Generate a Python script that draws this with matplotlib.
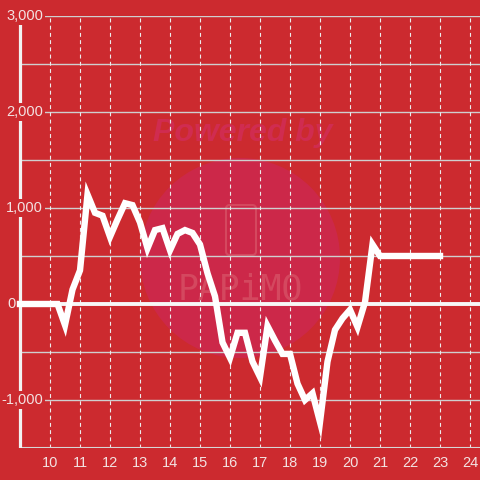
import matplotlib
matplotlib.use("Agg")
import matplotlib.pyplot as plt
from matplotlib.patches import Circle, FancyBboxPatch

hours = [9, 10.25, 10.5, 10.75, 11, 11.25, 11.5, 11.75, 12, 12.25, 12.5, 12.75,
         13, 13.25, 13.5, 13.75, 14, 14.25, 14.5, 14.75, 15, 15.25, 15.5, 15.75,
         16, 16.25, 16.5, 16.75, 17, 17.25, 17.5, 17.75, 18, 18.25, 18.5, 18.75,
         19, 19.25, 19.5, 19.75, 20, 20.25, 20.5, 20.75, 21, 23]
values = [0, 0, -220, 150, 350, 1140, 950, 920, 700, 880, 1050, 1030,
          850, 580, 770, 790, 560, 730, 770, 740, 620, 320, 80, -400,
          -560, -300, -300, -600, -760, -230, -380, -520, -520, -830, -1000, -930,
          -1230, -600, -270, -150, -60, -240, 20, 620, 500, 500]

x_ticks = list(range(10, 25))
x_tick_labels = [str(h) for h in x_ticks]
y_ticks = [3000, 2000, 1000, 0, -1000]
y_tick_labels = ["3,000", "2,000", "1,000", "0", "-1,000"]
grid_levels = [2500, 1500, 500, -500]

BG = "#cc2a2f"
TXT = "#f3e2e2"

plt.rcParams['font.family'] = ['Liberation Sans', 'DejaVu Sans']
fig = plt.figure(figsize=(4.8, 4.8), dpi=100, facecolor=BG)

# watermark (behind the axes)
fig.patches.append(Circle((240 / 480, 1 - 258 / 480), 100 / 480, transform=fig.transFigure,
                          facecolor="#cc2849", edgecolor="none", zorder=-3))
fig.patches.append(FancyBboxPatch((226 / 480, 1 - 255 / 480), 30 / 480, 50 / 480,
                                  boxstyle="round,pad=0,rounding_size=0.008", transform=fig.transFigure,
                                  facecolor="none", edgecolor="#d4485f", lw=1.5, zorder=-2))
wm1 = fig.text(243 / 480, 1 - 133 / 480, "Powered by", transform=fig.transFigure, ha="center", va="center",
               fontsize=23, fontweight="bold", style="italic", color="#d02c50", zorder=-2)
wm2 = fig.text(240 / 480, 1 - 290 / 480, "PAPiMO", transform=fig.transFigure, ha="center", va="center",
               fontsize=25, color="#d4485f", family="DejaVu Sans Mono", zorder=-2)

ax = fig.add_axes([0, 32 / 480, 1, 432 / 480])
ax.set_zorder(1)
ax.patch.set_visible(False)
ax.set_xlim(8 + 1 / 3, 24 + 1 / 3)
ax.set_ylim(-1500, 3000)
for s in ax.spines.values():
    s.set_visible(False)

# grid
ax.hlines(y_ticks + grid_levels, 9, 24 + 1 / 3, colors="#cfcfcf", lw=1.0, zorder=1)
ax.vlines(x_ticks, -1500, 3000, colors="#ececec", lw=0.8, linestyles=(0, (3.5, 3)), zorder=1)
ax.hlines(-1500, 9, 24 + 1 / 3, colors="#d6d6d6", lw=1.5, zorder=2)
ax.vlines(9, -1500, 2917, colors="#f2f2f2", lw=2.3, zorder=2)

# y labels
for v, lab in zip(y_ticks, y_tick_labels):
    if v == 0:
        ax.text(8.333 + 15.5 / 30, v, lab, ha="right", va="center", fontsize=10.5, color=TXT, zorder=3)
    else:
        ax.text(9 + 23 / 30, v, lab, ha="right", va="center", fontsize=10.5, color=TXT, zorder=3,
                bbox=dict(facecolor=BG, edgecolor="none", pad=1.2))

ax.hlines(0, 8.9, 24 + 1 / 3, colors="#f7f7f7", lw=2.8, zorder=4)

ax.plot(hours, values, color="white", lw=4.6, solid_joinstyle="miter",
        solid_capstyle="projecting", zorder=5)

ax.set_yticks([])
ax.set_xticks(x_ticks)
ax.set_xticklabels(x_tick_labels, fontsize=10.5, color=TXT)
ax.tick_params(axis="x", length=0, pad=6)

fig.savefig("out.png", dpi=100, facecolor=BG)
